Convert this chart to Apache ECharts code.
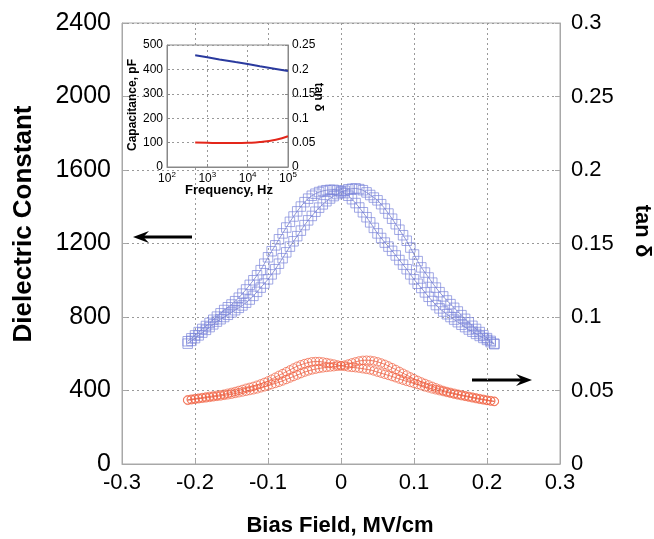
<!DOCTYPE html>
<html><head><meta charset="utf-8">
<script src="https://cdn.jsdelivr.net/npm/echarts@6/dist/echarts.min.js"></script>
<style>html,body{margin:0;padding:0;background:#fff}#c{width:654px;height:539px}</style>
</head><body><div id="c"></div>
<script>
// Bias field (MV/cm)
const biasField = [-0.210,-0.205,-0.200,-0.195,-0.190,-0.185,-0.180,-0.175,-0.170,-0.165,-0.160,-0.155,-0.150,-0.145,-0.140,-0.135,-0.130,-0.125,-0.120,-0.115,-0.110,-0.105,-0.100,-0.095,-0.090,-0.085,-0.080,-0.075,-0.070,-0.065,-0.060,-0.055,-0.050,-0.045,-0.040,-0.035,-0.030,-0.025,-0.020,-0.015,-0.010,-0.005,0.000,0.005,0.010,0.015,0.020,0.025,0.030,0.035,0.040,0.045,0.050,0.055,0.060,0.065,0.070,0.075,0.080,0.085,0.090,0.095,0.100,0.105,0.110,0.115,0.120,0.125,0.130,0.135,0.140,0.145,0.150,0.155,0.160,0.165,0.170,0.175,0.180,0.185,0.190,0.195,0.200,0.205,0.210];
// Dielectric constant, branch peaking at negative field
const epsBranchA = [668,684,700,718,735,751,768,785,802,820,838,853,868,886,905,927,950,975,1000,1027,1055,1090,1125,1158,1190,1223,1255,1287,1318,1347,1375,1401,1425,1444,1460,1471,1480,1486,1490,1492,1492,1489,1485,1474,1460,1441,1420,1396,1370,1343,1315,1285,1255,1230,1205,1183,1160,1135,1110,1085,1060,1032,1005,981,958,934,910,887,865,847,830,815,800,786,772,758,745,732,720,708,697,686,675,663,652];
// Dielectric constant, branch peaking at positive field
const epsBranchB = [655,670,685,700,715,730,745,760,775,788,800,812,825,837,850,863,878,895,915,937,960,982,1005,1032,1060,1090,1120,1152,1183,1212,1240,1270,1300,1326,1350,1373,1395,1413,1430,1445,1458,1469,1478,1487,1495,1498,1500,1496,1490,1478,1464,1450,1435,1414,1390,1363,1335,1305,1275,1245,1215,1178,1140,1104,1070,1042,1015,987,960,935,912,890,870,850,830,810,790,771,752,735,718,701,685,670,655];
// tan delta branches
const tanBranchA = [0.0437,0.0441,0.0445,0.0448,0.0452,0.0456,0.0460,0.0463,0.0467,0.0471,0.0475,0.0481,0.0487,0.0493,0.0500,0.0507,0.0515,0.0521,0.0528,0.0536,0.0545,0.0555,0.0565,0.0577,0.0590,0.0603,0.0615,0.0628,0.0640,0.0653,0.0665,0.0675,0.0683,0.0690,0.0695,0.0697,0.0697,0.0694,0.0690,0.0685,0.0680,0.0674,0.0668,0.0664,0.0660,0.0657,0.0655,0.0652,0.0648,0.0644,0.0640,0.0633,0.0625,0.0618,0.0610,0.0603,0.0595,0.0587,0.0578,0.0570,0.0562,0.0555,0.0548,0.0541,0.0533,0.0525,0.0518,0.0511,0.0505,0.0499,0.0493,0.0487,0.0481,0.0475,0.0470,0.0465,0.0460,0.0455,0.0450,0.0445,0.0440,0.0436,0.0432,0.0428,0.0425];
const tanBranchB = [0.0433,0.0437,0.0440,0.0444,0.0447,0.0450,0.0453,0.0457,0.0460,0.0463,0.0467,0.0471,0.0475,0.0480,0.0485,0.0490,0.0495,0.0500,0.0505,0.0511,0.0518,0.0525,0.0532,0.0540,0.0548,0.0556,0.0565,0.0575,0.0585,0.0595,0.0605,0.0615,0.0625,0.0633,0.0640,0.0645,0.0650,0.0654,0.0657,0.0660,0.0662,0.0665,0.0668,0.0673,0.0680,0.0688,0.0695,0.0701,0.0705,0.0706,0.0705,0.0701,0.0695,0.0687,0.0678,0.0667,0.0655,0.0643,0.0630,0.0617,0.0605,0.0592,0.0580,0.0569,0.0558,0.0548,0.0538,0.0528,0.0518,0.0509,0.0500,0.0493,0.0487,0.0481,0.0475,0.0470,0.0465,0.0460,0.0455,0.0450,0.0445,0.0440,0.0435,0.0431,0.0427];
// Inset: frequency sweep
const freqHz = [500,1000,2000,5000,10000,20000,50000,100000];
const capacitancePF = [458,450,441,430,422,413,402,393];
const insetTan = [0.050,0.0495,0.049,0.049,0.0495,0.051,0.056,0.063];

const FONT = "'Liberation Sans', Arial, sans-serif";
const pairs = (xs, ys) => xs.map((x, i) => [x, ys[i]]);
const grey = '#a8a8a8';
const gridLine = {show: true, lineStyle: {color: '#999', type: [2, 3], width: 1}};

const blueSym = {
  type: 'line', xAxisIndex: 0, yAxisIndex: 0,
  symbol: 'rect', symbolSize: 9.5, showSymbol: true, showAllSymbol: true,
  lineStyle: {width: 0.6, color: '#4a55b8'},
  itemStyle: {color: 'rgba(255,255,255,0)', borderColor: '#7a84da', borderWidth: 0.7},
  emphasis: {disabled: true}, animation: false, z: 3
};
const redSym = {
  type: 'line', xAxisIndex: 0, yAxisIndex: 1,
  symbol: 'circle', symbolSize: 8.5, showSymbol: true, showAllSymbol: true,
  lineStyle: {width: 0.6, color: '#d83a1c'},
  itemStyle: {color: 'rgba(255,255,255,0)', borderColor: '#f06040', borderWidth: 0.7},
  emphasis: {disabled: true}, animation: false, z: 3
};

function arrow(x1, x2, y, lw, hw, hh) {
  const dir = x2 > x1 ? 1 : -1;
  return {
    type: 'group', z: 100, children: [
      {type: 'line', shape: {x1: x1, y1: y, x2: x2 - dir * hw * 0.6, y2: y}, style: {stroke: '#000', lineWidth: lw}},
      {type: 'polygon', shape: {points: [[x2, y], [x2 - dir * hw, y - hh], [x2 - dir * hw * 0.65, y], [x2 - dir * hw, y + hh]]}, style: {fill: '#000'}}
    ]
  };
}

function txt(x, y, text, size, rot, weight) {
  return {type: 'text', x: x, y: y, rotation: rot || 0, z: 100,
    style: {text: text, fill: '#000', font: (weight || 'bold') + ' ' + size + 'px ' + FONT,
      align: 'center', verticalAlign: 'middle', textAlign: 'center', textVerticalAlign: 'middle'}};
}

const plain = v => String(Math.round(v * 1000) / 1000);

const chart = echarts.init(document.getElementById('c'), null, {renderer: 'canvas'});
chart.setOption({
  animation: false,
  backgroundColor: '#fff',
  grid: [
    {left: 122, right: 94, top: 23, bottom: 75, show: true, borderColor: grey, borderWidth: 1, containLabel: false},
    {left: 167, right: 366, top: 45, bottom: 372, show: true, backgroundColor: '#fff', borderColor: '#888', borderWidth: 1, z: 10}
  ],
  xAxis: [
    {type: 'value', gridIndex: 0, min: -0.3, max: 0.3, interval: 0.1,
      axisLine: {show: true, onZero: false, lineStyle: {color: grey}},
      axisTick: {show: true, inside: true, length: 5, lineStyle: {color: grey}},
      axisLabel: {color: '#000', fontSize: 22, fontFamily: FONT, margin: 8, formatter: plain},
      splitLine: gridLine},
    {type: 'log', gridIndex: 1, min: 100, max: 100000, logBase: 10, z: 11,
      axisLine: {show: true, onZero: false, lineStyle: {color: '#888'}},
      axisTick: {show: true, inside: true, length: 3, lineStyle: {color: '#888'}},
      minorTick: {show: false},
      axisLabel: {margin: 4, formatter: v => '{b|10}{s|' + Math.round(Math.log10(v)) + '}',
        rich: {b: {fontSize: 12, fontFamily: FONT, color: '#000', lineHeight: 16},
               s: {fontSize: 8, fontFamily: FONT, color: '#000', verticalAlign: 'top', lineHeight: 16, padding: [0, 0, 6, 0]}}},
      splitLine: gridLine}
  ],
  yAxis: [
    {type: 'value', gridIndex: 0, min: 0, max: 2400, interval: 400, position: 'left',
      axisLine: {show: true, onZero: false, lineStyle: {color: grey}},
      axisTick: {show: true, inside: true, length: 5, lineStyle: {color: grey}},
      axisLabel: {color: '#000', fontSize: 25, fontFamily: FONT, margin: 11, formatter: plain},
      splitLine: gridLine},
    {type: 'value', gridIndex: 0, min: 0, max: 0.3, interval: 0.05, position: 'right',
      axisLine: {show: true, onZero: false, lineStyle: {color: grey}},
      axisTick: {show: true, inside: true, length: 5, lineStyle: {color: grey}},
      axisLabel: {color: '#000', fontSize: 22, fontFamily: FONT, margin: 11, formatter: plain},
      splitLine: {show: false}},
    {type: 'value', gridIndex: 1, min: 0, max: 500, interval: 100, position: 'left', z: 11,
      axisLine: {show: true, onZero: false, lineStyle: {color: '#888'}},
      axisTick: {show: true, inside: true, length: 3, lineStyle: {color: '#888'}},
      axisLabel: {color: '#000', fontSize: 12, fontFamily: FONT, margin: 4, formatter: plain},
      splitLine: gridLine},
    {type: 'value', gridIndex: 1, min: 0, max: 0.25, interval: 0.05, position: 'right', z: 11,
      axisLine: {show: true, onZero: false, lineStyle: {color: '#888'}},
      axisTick: {show: true, inside: true, length: 3, lineStyle: {color: '#888'}},
      axisLabel: {color: '#000', fontSize: 12, fontFamily: FONT, margin: 4, formatter: plain},
      splitLine: {show: false}}
  ],
  series: [
    Object.assign({}, blueSym, {name: 'eps A', data: pairs(biasField, epsBranchA)}),
    Object.assign({}, blueSym, {name: 'eps B', data: pairs(biasField, epsBranchB)}),
    Object.assign({}, redSym, {name: 'tan A', data: pairs(biasField, tanBranchA)}),
    Object.assign({}, redSym, {name: 'tan B', data: pairs(biasField, tanBranchB)}),
    {type: 'line', name: 'C', xAxisIndex: 1, yAxisIndex: 2, data: pairs(freqHz, capacitancePF), showSymbol: false,
      lineStyle: {color: '#2a3a9e', width: 2}, z: 12, animation: false},
    {type: 'line', name: 'tan', xAxisIndex: 1, yAxisIndex: 3, data: pairs(freqHz, insetTan), showSymbol: false, smooth: true,
      lineStyle: {color: '#e3261a', width: 2}, z: 12, animation: false}
  ],
  graphic: [
    txt(24, 224, 'Dielectric Constant', 26, Math.PI / 2),
    txt(642, 231, 'tan δ', 22, -Math.PI / 2),
    txt(340, 526, 'Bias Field, MV/cm', 22, 0),
    txt(133, 105, 'Capacitance, pF', 12, Math.PI / 2),
    txt(318, 97, 'tan δ', 12, -Math.PI / 2),
    txt(229, 190, 'Frequency, Hz', 13, 0),
    arrow(192, 133, 237, 3, 16, 6),
    arrow(472, 532, 380, 3, 16, 6),
    arrow(195, 179, 59, 1.5, 7, 3),
    arrow(265, 282, 147, 1.5, 7, 3)
  ]
});
</script></body></html>
